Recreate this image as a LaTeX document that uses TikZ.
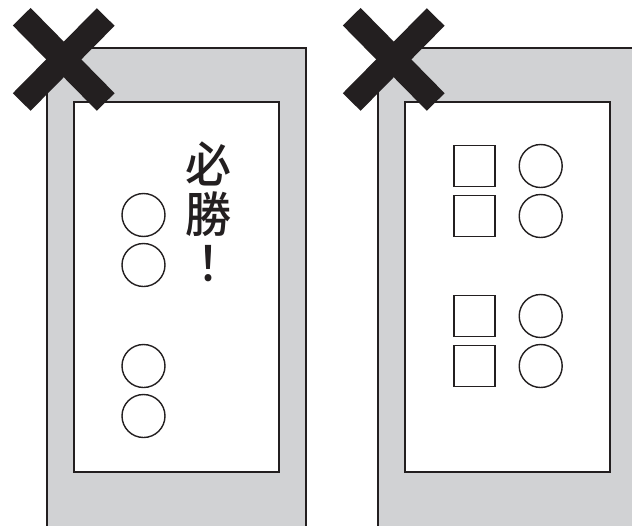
\documentclass[tikz,border=0pt]{standalone}
\usepackage{fontspec}
\newfontfamily\cjk{Noto Sans CJK JP Medium}
\definecolor{panelgray}{HTML}{D1D2D4}
\definecolor{ink}{HTML}{231F20}
\begin{document}
\begin{tikzpicture}[x=1pt,y=-1pt,
  panel/.style={fill=panelgray,draw=none},
  edge/.style={draw=ink,line width=2pt},
  screen/.style={fill=white,draw=ink,line width=2pt},
  ring/.style={circle,draw=ink,line width=1.4pt,minimum size=43pt,inner sep=0pt},
  sq/.style={rectangle,draw=ink,line width=1.6pt,minimum size=41pt,inner sep=0pt},
  cross/.style={draw=ink,line width=25pt},
  glyph/.style={font=\cjk\fontsize{46}{46}\selectfont,text=ink,inner sep=0pt,yscale=1.05}]
\useasboundingbox (0,0) rectangle (632,525);
\begin{scope}
\clip (0,0) rectangle (632,525);
% left panel
\fill[panel] (47,48) rectangle (306,530);
\draw[edge] (47,530) -- (47,48) -- (306,48) -- (306,530);
\draw[screen] (74,102) rectangle (279,472);
% right panel
\fill[panel] (378,48) rectangle (640,530);
\draw[edge] (378,530) -- (378,48) -- (640,48);
\draw[screen] (405,102) rectangle (610,472);
\end{scope}
% left contents
\node[ring] (l1) at (143.5,215) {};
\node[ring] (l2) at (143.5,265) {};
\node[ring] (l3) at (143.5,366) {};
\node[ring] (l4) at (143.5,416) {};
\node[glyph] (t1) at (208,164) {必};
\node[glyph] (t2) at (208,214) {勝};
\node[glyph] (t3) at (208,264) {！};
% right contents
\node[sq] (s1) at (474.5,166) {};
\node[sq] (s2) at (474.5,216) {};
\node[sq] (s3) at (474.5,316) {};
\node[sq] (s4) at (474.5,366) {};
\node[ring] (r1) at (540.7,166) {};
\node[ring] (r2) at (540.7,216) {};
\node[ring] (r3) at (540.7,316) {};
\node[ring] (r4) at (540.7,366) {};
% crosses
\coordinate (a1) at (21.7,16.7); \coordinate (a2) at (105.7,102);
\coordinate (a3) at (105.7,17);  \coordinate (a4) at (21.7,102);
\draw[cross] (a1) -- (a2);
\draw[cross] (a3) -- (a4);
\coordinate (b1) at (351.7,16.7); \coordinate (b2) at (435.7,102);
\coordinate (b3) at (435.7,17);   \coordinate (b4) at (351.7,102);
\draw[cross] (b1) -- (b2);
\draw[cross] (b3) -- (b4);
\end{tikzpicture}
\end{document}
